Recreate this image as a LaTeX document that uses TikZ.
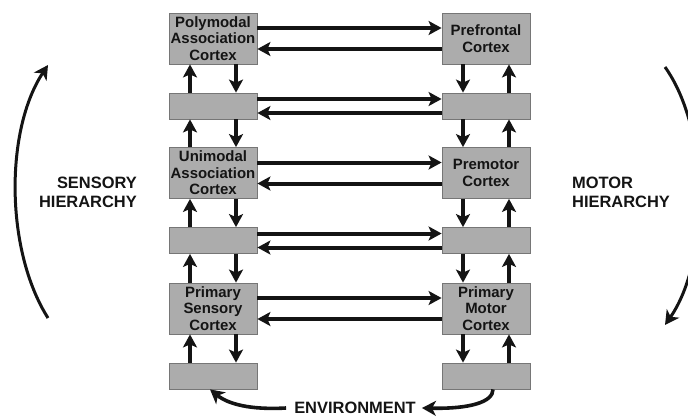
\documentclass[tikz,border=0pt]{standalone}
\usepackage{fontspec}
\setmainfont{Liberation Sans}
\usetikzlibrary{arrows.meta, positioning}
\definecolor{boxfill}{RGB}{172, 172, 172}
\definecolor{boxline}{RGB}{118, 118, 118}
\definecolor{ink}{RGB}{20, 20, 20}

\begin{document}
\begin{tikzpicture}[x=1bp, y=-1bp,
    area/.style={draw=boxline, fill=boxfill, line width=0.8bp, minimum width=88bp, minimum height=51bp,
      inner sep=0pt, align=center, text=ink, font=\bfseries\fontsize{15}{16.5}\selectfont},
    relay/.style={area, minimum height=26bp},
    link/.style={line width=4bp, ink, -{Stealth[length=13bp, width=14bp, inset=3bp]}},
    sweep/.style={line width=3bp, ink, -{Stealth[length=14bp, width=15bp, inset=4bp]}},
    hier/.style={inner sep=0pt, text=ink, font=\bfseries\fontsize{16.5}{19}\selectfont}]
  \useasboundingbox (0,0) rectangle (688,416);
  \clip (0,0) rectangle (688,416);

  % sensory column and motor column
  \node[area]  (pac) at (213,38.5)  {Polymodal\\Association\\Cortex};
  \node[area]  (pfc) at (486,38.5)  {Prefrontal\\Cortex};
  \node[relay] (lr1) at (213,106)   {};
  \node[relay] (rr1) at (486,106)   {};
  \node[area]  (uac) at (213,173)   {Unimodal\\Association\\Cortex};
  \node[area]  (pmc) at (486,173)   {Premotor\\Cortex};
  \node[relay] (lr2) at (213,240.5) {};
  \node[relay] (rr2) at (486,240.5) {};
  \node[area]  (psc) at (213,308.5) {Primary\\Sensory\\Cortex};
  \node[area]  (pmo) at (486,308.5) {Primary\\Motor\\Cortex};
  \node[relay] (lr3) at (213,376)   {};
  \node[relay] (rr3) at (486,376)   {};

  % across
  \foreach \l/\r/\d in {pac/pfc/10.5, lr1/rr1/7, uac/pmc/10.5, lr2/rr2/7, psc/pmo/10.5} {
    \draw[link] ([yshift=\d bp]\l.east) -- ([yshift=\d bp]\r.west);
    \draw[link] ([yshift=-\d bp]\r.west) -- ([yshift=-\d bp]\l.east);
  }

  % up and down
  \foreach \hi/\lo in {pac/lr1, lr1/uac, uac/lr2, lr2/psc, psc/lr3} {
    \draw[link] ([xshift=-23bp]\lo.north) -- ([xshift=-23bp]\hi.south);
    \draw[link] ([xshift=23bp]\hi.south) -- ([xshift=23bp]\lo.north);
  }
  \foreach \hi/\lo in {pfc/rr1, rr1/pmc, pmc/rr2, rr2/pmo, pmo/rr3} {
    \draw[link] ([xshift=-23bp]\hi.south) -- ([xshift=-23bp]\lo.north);
    \draw[link] ([xshift=23bp]\lo.north) -- ([xshift=23bp]\hi.south);
  }

  \node[hier, anchor=east, align=right] (sens) at (137,192.5) {SENSORY\\HIERARCHY};
  \node[hier, anchor=west, align=left]  (mot)  at (572,192.5) {MOTOR\\HIERARCHY};
  \node[hier] (env) at (355,408) {ENVIRONMENT};

  \coordinate (sbot) at (48,318);
  \coordinate (stop) at (48,65);
  \coordinate (mtop) at (665,67);
  \coordinate (mbot) at (665,325);
  \draw[sweep] (sbot) .. controls (5,250) and (5,130) .. (stop);
  \draw[sweep] (mtop) .. controls (710,130) and (710,260) .. (mbot);

  \draw[sweep, line width=3.6bp] ([xshift=-8bp]env.west) .. controls (250,410) and (228,404) .. ([xshift=-3bp]lr3.south);
  \draw[sweep, line width=3.6bp] ([xshift=7bp]rr3.south) .. controls (493,402) and (470,409) .. ([xshift=6bp]env.east);
\end{tikzpicture}
\end{document}
